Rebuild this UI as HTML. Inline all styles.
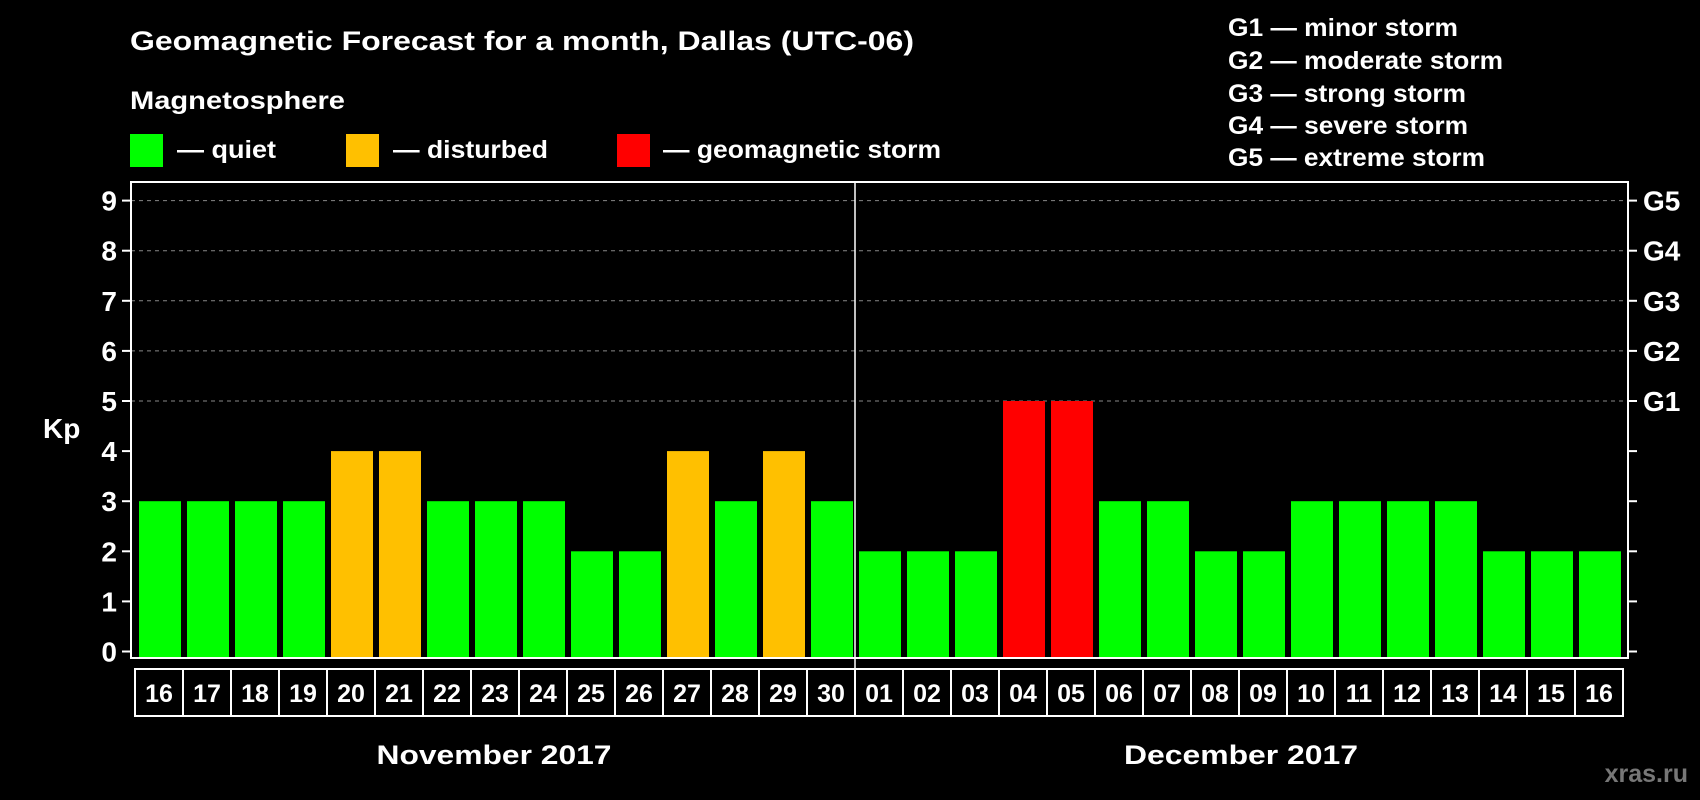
<!DOCTYPE html>
<html><head><meta charset="utf-8"><style>
html,body{margin:0;padding:0;background:#000;}
svg{display:block;font-family:"Liberation Sans",Arial,sans-serif;font-weight:bold;}
</style></head><body>
<svg id="chart" width="1700" height="800" viewBox="0 0 1700 800">
<rect width="1700" height="800" fill="#000"/>
<text x="130" y="50" fill="#fff" font-size="27" textLength="784" lengthAdjust="spacingAndGlyphs">Geomagnetic Forecast for a month, Dallas (UTC-06)</text>
<text x="130" y="109" fill="#fff" font-size="25" textLength="215" lengthAdjust="spacingAndGlyphs">Magnetosphere</text>
<g><rect x="130" y="134" width="33" height="33" fill="#00ff00"/><text x="177" y="158" fill="#fff" font-size="25" textLength="99" lengthAdjust="spacingAndGlyphs">— quiet</text></g>
<g><rect x="346" y="134" width="33" height="33" fill="#ffc000"/><text x="393" y="158" fill="#fff" font-size="25" textLength="155" lengthAdjust="spacingAndGlyphs">— disturbed</text></g>
<g><rect x="617" y="134" width="33" height="33" fill="#ff0000"/><text x="663" y="158" fill="#fff" font-size="25" textLength="278" lengthAdjust="spacingAndGlyphs">— geomagnetic storm</text></g>
<g fill="#fff" font-size="25">
<text x="1228" y="36" textLength="230" lengthAdjust="spacingAndGlyphs">G1 — minor storm</text>
<text x="1228" y="69" textLength="275" lengthAdjust="spacingAndGlyphs">G2 — moderate storm</text>
<text x="1228" y="102" textLength="238" lengthAdjust="spacingAndGlyphs">G3 — strong storm</text>
<text x="1228" y="134" textLength="240" lengthAdjust="spacingAndGlyphs">G4 — severe storm</text>
<text x="1228" y="166" textLength="257" lengthAdjust="spacingAndGlyphs">G5 — extreme storm</text>
</g>
<text x="43" y="438" fill="#fff" font-size="28">Kp</text>
<g id="grid"></g><g id="bars"></g><g id="axes"></g><g id="xlabels"></g>
<line x1="855" y1="182" x2="855" y2="716" stroke="#fff" stroke-width="1.5"/>
<rect x="131" y="182" width="1497" height="476" fill="none" stroke="#fff" stroke-width="2"/>
<text x="494" y="764" fill="#fff" font-size="27" text-anchor="middle" textLength="235" lengthAdjust="spacingAndGlyphs">November 2017</text>
<text x="1241" y="764" fill="#fff" font-size="27" text-anchor="middle" textLength="234" lengthAdjust="spacingAndGlyphs">December 2017</text>
<text x="1688" y="782" fill="#777" font-size="25" text-anchor="end">xras.ru</text>
</svg>
<script>
const days=["16","17","18","19","20","21","22","23","24","25","26","27","28","29","30","01","02","03","04","05","06","07","08","09","10","11","12","13","14","15","16"];
const kp=[3,3,3,3,4,4,3,3,3,2,2,4,3,4,3,2,2,2,5,5,3,3,2,2,3,3,3,3,2,2,2];
const yTicks=[0,1,2,3,4,5,6,7,8,9];
const gLabels=["G1","G2","G3","G4","G5"];
const NS="http://www.w3.org/2000/svg";
function y(v){return 651.5-v*50.1;}
function x(i){return 139+i*48;}
function mk(t,a,p){const e=document.createElementNS(NS,t);for(const k in a)e.setAttribute(k,a[k]);p.appendChild(e);return e;}
const grid=document.getElementById('grid'),bars=document.getElementById('bars'),axes=document.getElementById('axes'),xl=document.getElementById('xlabels');
yTicks.forEach(v=>{
 if(v>=5){const g=mk('line',{x1:131,x2:1628,y1:y(v),y2:y(v),stroke:'#888','stroke-dasharray':'4,4','stroke-width':1},grid);
 
 }
 mk('line',{x1:122,x2:131,y1:y(v),y2:y(v),stroke:'#fff','stroke-width':2},axes);
 mk('line',{x1:1628,x2:1637,y1:y(v),y2:y(v),stroke:'#fff','stroke-width':2},axes);
 const t=mk('text',{x:117,y:y(v)+10,fill:'#fff','font-size':28,'text-anchor':'end'},axes);
 t.textContent=v;
 
 
 if(v>=5){const g=mk('text',{x:1643,y:y(v)+10,fill:'#fff','font-size':28},axes);
 g.textContent=gLabels[v-5];
 
 }
});
kp.forEach((v,i)=>{
 const c=v>=5?'#ff0000':(v>=4?'#ffc000':'#00ff00');
 const r=mk('rect',{x:x(i),y:y(v),width:42,height:657-y(v),fill:c},bars);
 
 
});
days.forEach((d,i)=>{
 const b=mk('rect',{x:135+i*48,y:669,width:48,height:47,fill:'none',stroke:'#fff','stroke-width':2},xl);
 
 
 const t=mk('text',{x:159+i*48,y:702,fill:'#fff','font-size':25,'text-anchor':'middle'},xl);
 t.textContent=d;
 
 
});
</script>
</body></html>
